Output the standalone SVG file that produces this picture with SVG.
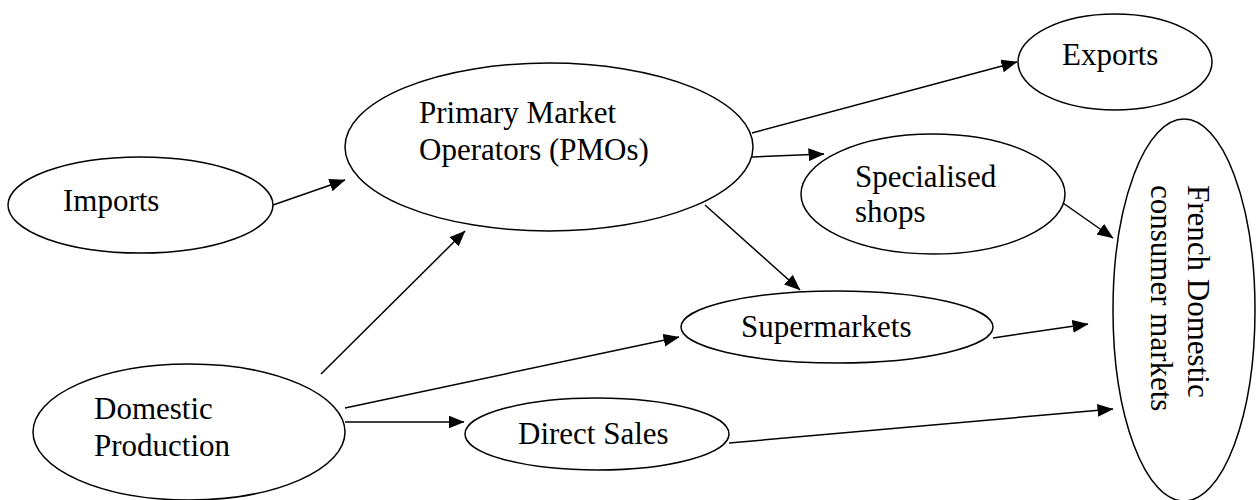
<svg xmlns="http://www.w3.org/2000/svg" width="1259" height="500" viewBox="0 0 1259 500">
<style>
.n ellipse{fill:#fff;stroke:#000;stroke-width:1.5}
.n text{font-family:"Liberation Serif","Times New Roman",serif;font-size:31px;fill:#000}
.e line{stroke:#000;stroke-width:1.5;marker-end:url(#ah)}
</style>
<defs>
<marker id="ah" markerUnits="userSpaceOnUse" markerWidth="17" markerHeight="14" refX="15.5" refY="6.5" orient="auto">
<path d="M0,0 L16,6.5 L0,13 z" fill="#000"/>
</marker>
</defs>
<rect width="1259" height="500" fill="#fff"/>
<g id="imports" class="n"><ellipse cx="140.5" cy="205" rx="132.5" ry="48"/><text x="63" y="211">Imports</text></g>
<g id="pmo" class="n"><ellipse cx="549" cy="147" rx="204" ry="84"/><text x="419" y="123">Primary Market</text><text x="419" y="160">Operators (PMOs)</text></g>
<g id="exports" class="n"><ellipse cx="1115" cy="62" rx="97" ry="48"/><text x="1062" y="65">Exports</text></g>
<g id="specialised" class="n"><ellipse cx="933" cy="194" rx="132" ry="60"/><text x="855" y="187">Specialised</text><text x="855" y="222">shops</text></g>
<g id="french" class="n"><ellipse cx="1184" cy="310" rx="71" ry="191"/><text transform="translate(1188,185) rotate(90)">French Domestic</text><text transform="translate(1151,185) rotate(90)">consumer markets</text></g>
<g id="supermarkets" class="n"><ellipse cx="837" cy="327" rx="156" ry="36"/><text x="741" y="337">Supermarkets</text></g>
<g id="direct" class="n"><ellipse cx="597" cy="434" rx="132" ry="36"/><text x="518" y="444">Direct Sales</text></g>
<g id="domestic" class="n"><ellipse cx="189" cy="432" rx="156" ry="68"/><text x="94" y="419">Domestic</text><text x="94" y="456">Production</text></g>
<g id="connectors" class="e">
<line x1="273" y1="205" x2="345" y2="180"/>
<line x1="321" y1="374" x2="465" y2="231"/>
<line x1="345" y1="408" x2="679" y2="337"/>
<line x1="345" y1="422" x2="464" y2="422"/>
<line x1="752" y1="133" x2="1017" y2="62"/>
<line x1="752" y1="157" x2="824" y2="154"/>
<line x1="705" y1="205" x2="800" y2="290"/>
<line x1="1063" y1="203" x2="1113" y2="238"/>
<line x1="993" y1="338" x2="1088" y2="324"/>
<line x1="729" y1="443" x2="1113" y2="409"/>
</g>
</svg>
